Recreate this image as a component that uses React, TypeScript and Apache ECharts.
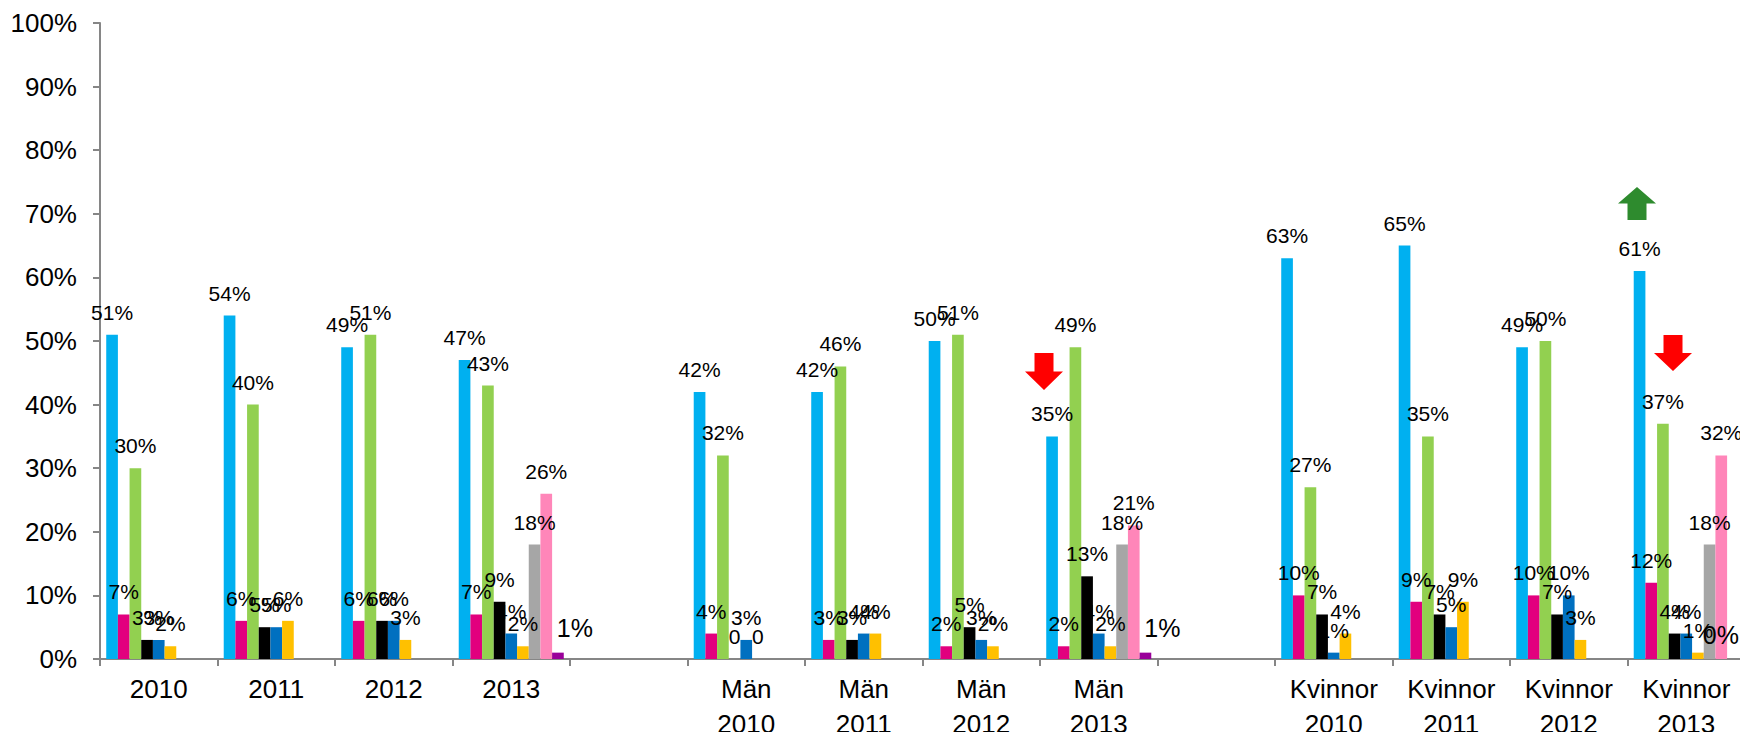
import React, { useEffect, useRef } from "react";
import * as echarts from "echarts";

const categories = [
  "2010", "2011", "2012", "2013", "",
  "Män\n2010", "Män\n2011", "Män\n2012", "Män\n2013", "",
  "Kvinnor\n2010", "Kvinnor\n2011", "Kvinnor\n2012", "Kvinnor\n2013",
];

const seriesNames = ["s1", "s2", "s3", "s4", "s5", "s6", "s7", "s8", "s9"];
const seriesColors = ["#00B0F0", "#E2007E", "#92D050", "#000000", "#0070C0", "#FFC000", "#A6A6A6", "#FF86B9", "#990099"];

const cyanValues = [51, 54, 49, 47, null, 42, 42, 50, 35, null, 63, 65, 49, 61];
const magentaValues = [7, 6, 6, 7, null, 4, 3, 2, 2, null, 10, 9, 10, 12];
const greenValues = [30, 40, 51, 43, null, 32, 46, 51, 49, null, 27, 35, 50, 37];
const blackValues = [3, 5, 6, 9, null, 0, 3, 5, 13, null, 7, 7, 7, 4];
const blueValues = [3, 5, 6, 4, null, 3, 4, 3, 4, null, 1, 5, 10, 4];
const yellowValues = [2, 6, 3, 2, null, 0, 4, 2, 2, null, 4, 9, 3, 1];
const grayValues = [null, null, null, 18, null, null, null, null, 18, null, null, null, null, 18];
const pinkValues = [null, null, null, 26, null, null, null, null, 21, null, null, null, null, 32];
const purpleValues = [null, null, null, 1, null, null, null, null, 1, null, null, null, null, 0];

const allValues = [cyanValues, magentaValues, greenValues, blackValues, blueValues, yellowValues, grayValues, pinkValues, purpleValues];

// labels shown as plain "0" (series index, category index)
const plainZeroLabels = [[3, 5], [5, 5]];

const yTicks = [0, 10, 20, 30, 40, 50, 60, 70, 80, 90, 100];

const FONT = "'Liberation Sans', Arial, sans-serif";

function arrowPoints(cx: number, top: number, w: number, h: number, down: boolean) {
  if (down) {
    return [
      [cx - w / 4, top], [cx + w / 4, top], [cx + w / 4, top + h / 2], [cx + w / 2, top + h / 2],
      [cx, top + h], [cx - w / 2, top + h / 2], [cx - w / 4, top + h / 2],
    ];
  }
  return [
    [cx, top], [cx + w / 2, top + h / 2], [cx + w / 4, top + h / 2], [cx + w / 4, top + h],
    [cx - w / 4, top + h], [cx - w / 4, top + h / 2], [cx - w / 2, top + h / 2],
  ];
}

export default function App() {
  const ref = useRef<HTMLDivElement>(null);
  useEffect(() => {
    document.body.style.margin = "0";
    const chart = echarts.init(ref.current!, null, { renderer: "svg" });
    const series = allValues.map((vals, si) => ({
      name: seriesNames[si],
      type: "bar",
      barGap: "0%",
      barCategoryGap: "10.6%",
      itemStyle: { color: seriesColors[si] },
      label: {
        show: true,
        position: "top",
        distance: 12,
        offset: si === 8 ? [17, 0] : [0, 0],
        color: "#000",
        fontFamily: FONT,
        fontSize: si === 8 ? 25 : 21,
        formatter: (p: any) => `${p.value}%`,
      },
      data: vals.map((v, ci) => {
        if (v === null) return null;
        if (plainZeroLabels.some(([s, c]) => s === si && c === ci)) {
          return { value: v, label: { formatter: "0" } };
        }
        if (si === 8 && ci === categories.length - 1) {
          return { value: v, label: { offset: [-12, 0] } };
        }
        return v;
      }),
    }));

    chart.setOption({
      animation: false,
      grid: { left: 100, top: 23, width: 1645, bottom: 73, containLabel: false, outerBoundsMode: "none" },
      xAxis: {
        type: "category",
        data: categories,
        axisLine: { show: true, lineStyle: { color: "#868686", width: 2 } },
        axisTick: { show: true, length: 7, lineStyle: { color: "#868686", width: 2 } },
        axisLabel: { color: "#000", fontFamily: FONT, fontSize: 26, lineHeight: 35, margin: 12, interval: 0 },
      },
      yAxis: {
        type: "value",
        min: yTicks[0],
        max: yTicks[yTicks.length - 1],
        interval: 10,
        axisLine: { show: true, lineStyle: { color: "#868686", width: 2 } },
        axisTick: { show: true, length: 7, lineStyle: { color: "#868686", width: 2 } },
        splitLine: { show: false },
        axisLabel: { color: "#000", fontFamily: FONT, fontSize: 26, margin: 23, formatter: "{value}%" },
      },
      series,
      graphic: [
        { type: "polygon", shape: { points: arrowPoints(1044, 353, 38, 37, true) }, style: { fill: "#FF0000" } },
        { type: "polygon", shape: { points: arrowPoints(1637, 187, 38, 33, false) }, style: { fill: "#2E8B2E" } },
        { type: "polygon", shape: { points: arrowPoints(1673, 335, 38, 36, true) }, style: { fill: "#FF0000" } },
      ],
    });
    return () => chart.dispose();
  }, []);
  return <div ref={ref} style={{ width: 1740, height: 732 }} />;
}
